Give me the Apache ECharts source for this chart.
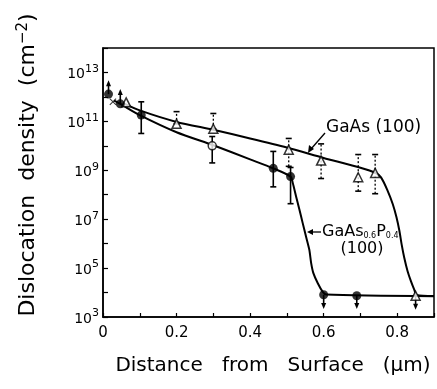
<!DOCTYPE html>
<html>
<head>
<meta charset="utf-8">
<script src="https://cdn.jsdelivr.net/npm/echarts@6/dist/echarts.min.js"></script>
<style>
  html, body { margin: 0; padding: 0; background: #fff; }
  #main { width: 437px; height: 389px; }
</style>
</head>
<body>
<div id="main"></div>
<script>
// distance from surface (um) / dislocation density (cm^-2)
var dotX = [0.015, 0.047, 0.104, 0.463, 0.51, 0.60, 0.69];
var dotY = [1.3e12, 5.2e11, 1.8e11, 1.2e9, 5.5e8, 8.1e3, 7.4e3];
var openDotX = [0.297];
var openDotY = [1.0e10];
var triX = [0.063, 0.2, 0.3, 0.505, 0.593, 0.694, 0.74, 0.85];
var triY = [6.0e11, 7.9e10, 5.0e10, 6.9e9, 2.5e9, 5.2e8, 7.8e8, 7.4e3];
var crossX = [0.027];
var crossY = [6.3e11];

// error bars: x, low, high
var solidBars = [
  [0.104, 3.2e10, 6.3e11],
  [0.297, 2.0e9, 2.4e10],
  [0.463, 2.1e8, 5.9e9],
  [0.51, 4.3e7, 1.3e9]
];
var dottedBars = [
  [0.2, 7.9e10, 2.5e11],
  [0.3, 5.0e10, 2.1e11],
  [0.505, 1.45e9, 2.0e10],
  [0.593, 4.6e8, 1.2e10],
  [0.694, 1.4e8, 4.4e9],
  [0.74, 1.1e8, 4.4e9]
];
// arrows: x, from, to
var arrows = [
  [0.015, 1.3e12, 4.8e12],
  [0.047, 5.2e11, 2.1e12],
  [0.60, 8.1e3, 2.1e3],
  [0.69, 7.4e3, 2.1e3],
  [0.85, 7.4e3, 2.0e3]
];

// drawn curves
var gaAsCurveX = [0.055, 0.1, 0.2, 0.3, 0.4, 0.5, 0.6, 0.7, 0.74, 0.756, 0.774, 0.788, 0.798, 0.806, 0.812, 0.819, 0.828, 0.837, 0.846, 0.853, 0.9];
var gaAsCurveY = [5.6e11, 2.8e11, 9.5e10, 4.5e10, 2.0e10, 8.5e9, 3.2e9, 1.26e9, 7.9e8, 5.1e8, 1.45e8, 4.1e7, 1.2e7, 3.3e6, 9.3e5, 2.7e5, 7.6e4, 3.0e4, 1.35e4, 8.0e3, 7.2e3];
var gaAsPCurveX = [0.03, 0.047, 0.1, 0.2, 0.3, 0.4, 0.463, 0.51, 0.516, 0.525, 0.534, 0.543, 0.552, 0.561, 0.566, 0.572, 0.584, 0.597, 0.607, 0.9];
var gaAsPCurveY = [7.1e11, 5.2e11, 1.8e11, 3.6e10, 1.05e10, 2.8e9, 1.2e9, 5.5e8, 3.0e8, 8.5e7, 2.5e7, 6.9e6, 1.95e6, 5.6e5, 1.6e5, 6.2e4, 2.4e4, 1.1e4, 8.3e3, 7.1e3];

var xTickLabels = ['0', '0.2', '0.4', '0.6', '0.8'];

function zip(xs, ys) {
  return xs.map(function (x, i) { return [x, ys[i]]; });
}

var FONT = 'DejaVu Sans';

function renderBars(dotted) {
  return function (params, api) {
    var x = api.value(0);
    var lo = api.coord([x, api.value(1)]);
    var hi = api.coord([x, api.value(2)]);
    var st = { stroke: '#000', lineWidth: dotted ? 1.3 : 1.6, lineDash: dotted ? [2, 2] : null };
    var cap = { stroke: '#000', lineWidth: 1.6 };
    return {
      type: 'group',
      children: [
        { type: 'line', shape: { x1: lo[0], y1: lo[1], x2: hi[0], y2: hi[1] }, style: st },
        { type: 'line', shape: { x1: hi[0] - 3, y1: hi[1], x2: hi[0] + 3, y2: hi[1] }, style: cap },
        { type: 'line', shape: { x1: lo[0] - 3, y1: lo[1], x2: lo[0] + 3, y2: lo[1] }, style: cap }
      ]
    };
  };
}

function renderArrow(params, api) {
  var x = api.value(0);
  var a = api.coord([x, api.value(1)]);
  var b = api.coord([x, api.value(2)]);
  var dir = b[1] < a[1] ? -1 : 1;
  return {
    type: 'group',
    children: [
      { type: 'line', shape: { x1: a[0], y1: a[1], x2: b[0], y2: b[1] - dir * 4 }, style: { stroke: '#000', lineWidth: 1.6 } },
      { type: 'polygon', shape: { points: [[b[0], b[1]], [b[0] - 2.5, b[1] - dir * 6], [b[0] + 2.5, b[1] - dir * 6]] }, style: { fill: '#000' } }
    ]
  };
}

var chart = echarts.init(document.getElementById('main'), null, { renderer: 'canvas' });

var option = {
  backgroundColor: '#fff',
  animation: false,
  grid: {
    left: 103, right: 2, top: 48, bottom: 72,
    show: true, borderColor: '#000', borderWidth: 1.5
  },
  xAxis: {
    type: 'value',
    min: 0, max: 0.9, interval: 0.1,
    axisLine: { lineStyle: { color: '#000', width: 1.5 } },
    axisTick: { inside: true, length: 4, lineStyle: { color: '#000', width: 1.2 } },
    splitLine: { show: false },
    axisLabel: {
      margin: 9, color: '#000', fontFamily: FONT, fontSize: 15,
      formatter: function (v) {
        var k = Math.round(v * 10);
        return k % 2 === 0 ? xTickLabels[k / 2] || '' : '';
      }
    }
  },
  yAxis: {
    type: 'log', logBase: 10,
    min: 1e3, max: 1e14, interval: 1,
    axisLine: { lineStyle: { color: '#000', width: 1.5 } },
    axisTick: { inside: true, length: 5, lineStyle: { color: '#000', width: 1.2 } },
    splitLine: { show: false },
    axisLabel: {
      margin: 4, color: '#000',
      formatter: function (v) {
        var e = Math.round(Math.log(v) / Math.LN10);
        if (e % 2 === 1 && e <= 13) return '{b|10}{s|' + e + '}';
        return '';
      },
      rich: {
        b: { fontFamily: FONT, fontSize: 14, color: '#000', padding: [4, 0, 0, 0] },
        s: { fontFamily: FONT, fontSize: 11, color: '#000', padding: [0, 0, 7, 0] }
      }
    }
  },
  series: [
    {
      type: 'line', data: zip(gaAsCurveX, gaAsCurveY), smooth: 0.25, showSymbol: false,
      lineStyle: { color: '#000', width: 2 }, z: 2
    },
    {
      type: 'line', data: zip(gaAsPCurveX, gaAsPCurveY), smooth: 0.25, showSymbol: false,
      lineStyle: { color: '#000', width: 2 }, z: 2
    },
    { type: 'custom', renderItem: renderBars(false), data: solidBars, z: 3 },
    { type: 'custom', renderItem: renderBars(true), data: dottedBars, z: 3 },
    { type: 'custom', renderItem: renderArrow, data: arrows, z: 3 },
    {
      type: 'scatter', data: zip(triX, triY), symbol: 'triangle', symbolSize: 9,
      itemStyle: { color: '#fff', borderColor: '#000', borderWidth: 1.5 }, z: 5
    },
    {
      type: 'scatter', data: zip(dotX, dotY), symbol: 'circle', symbolSize: 9,
      itemStyle: { color: '#000' }, z: 5
    },
    {
      type: 'scatter', data: zip(openDotX, openDotY), symbol: 'circle', symbolSize: 8,
      itemStyle: { color: '#fff', borderColor: '#000', borderWidth: 1.5 }, z: 5
    },
    {
      type: 'scatter', data: zip(crossX, crossY), symbolSize: 7,
      symbol: 'path://M0,1L1,0L5,4L9,0L10,1L6,5L10,9L9,10L5,6L1,10L0,9L4,5Z',
      itemStyle: { color: '#000' }, z: 5
    }
  ],
  graphic: [
    {
      type: 'text', x: 28, y: 165, rotation: Math.PI / 2,
      style: {
        text: 'Dislocation  density  (cm{s|−2})',
        fontFamily: FONT, fontSize: 22, fill: '#000',
        align: 'center', verticalAlign: 'middle',
        rich: { s: { fontFamily: FONT, fontSize: 15, padding: [0, 0, 10, 0] } }
      }
    },
    {
      type: 'text',
      style: {
        text: 'Distance   from   Surface   (µm)', x: 273, y: 366,
        fontFamily: FONT, fontSize: 20, fill: '#000', align: 'center', verticalAlign: 'middle'
      }
    },
    {
      type: 'text',
      style: {
        text: 'GaAs (100)', x: 326, y: 128,
        fontFamily: FONT, fontSize: 17, fill: '#000', align: 'left', verticalAlign: 'middle'
      }
    },
    {
      type: 'text',
      style: {
        text: 'GaAs{s|0.6}P{s|0.4}', x: 322, y: 232,
        fontFamily: FONT, fontSize: 16, fill: '#000', align: 'left', verticalAlign: 'middle',
        rich: { s: { fontFamily: FONT, fontSize: 8, padding: [8, 0, 0, 0] } }
      }
    },
    {
      type: 'text',
      style: {
        text: '(100)', x: 362, y: 249,
        fontFamily: FONT, fontSize: 16, fill: '#000', align: 'center', verticalAlign: 'middle'
      }
    },
    { type: 'line', shape: { x1: 325, y1: 133, x2: 311, y2: 149 }, style: { stroke: '#000', lineWidth: 1.3 } },
    { type: 'polygon', shape: { points: [[308, 153], [309, 145], [314, 149]] }, style: { fill: '#000' } },
    { type: 'line', shape: { x1: 321, y1: 232, x2: 312, y2: 232 }, style: { stroke: '#000', lineWidth: 1.3 } },
    { type: 'polygon', shape: { points: [[307, 232], [313, 229], [313, 235]] }, style: { fill: '#000' } }
  ]
};

chart.setOption(option);
</script>
</body>
</html>
